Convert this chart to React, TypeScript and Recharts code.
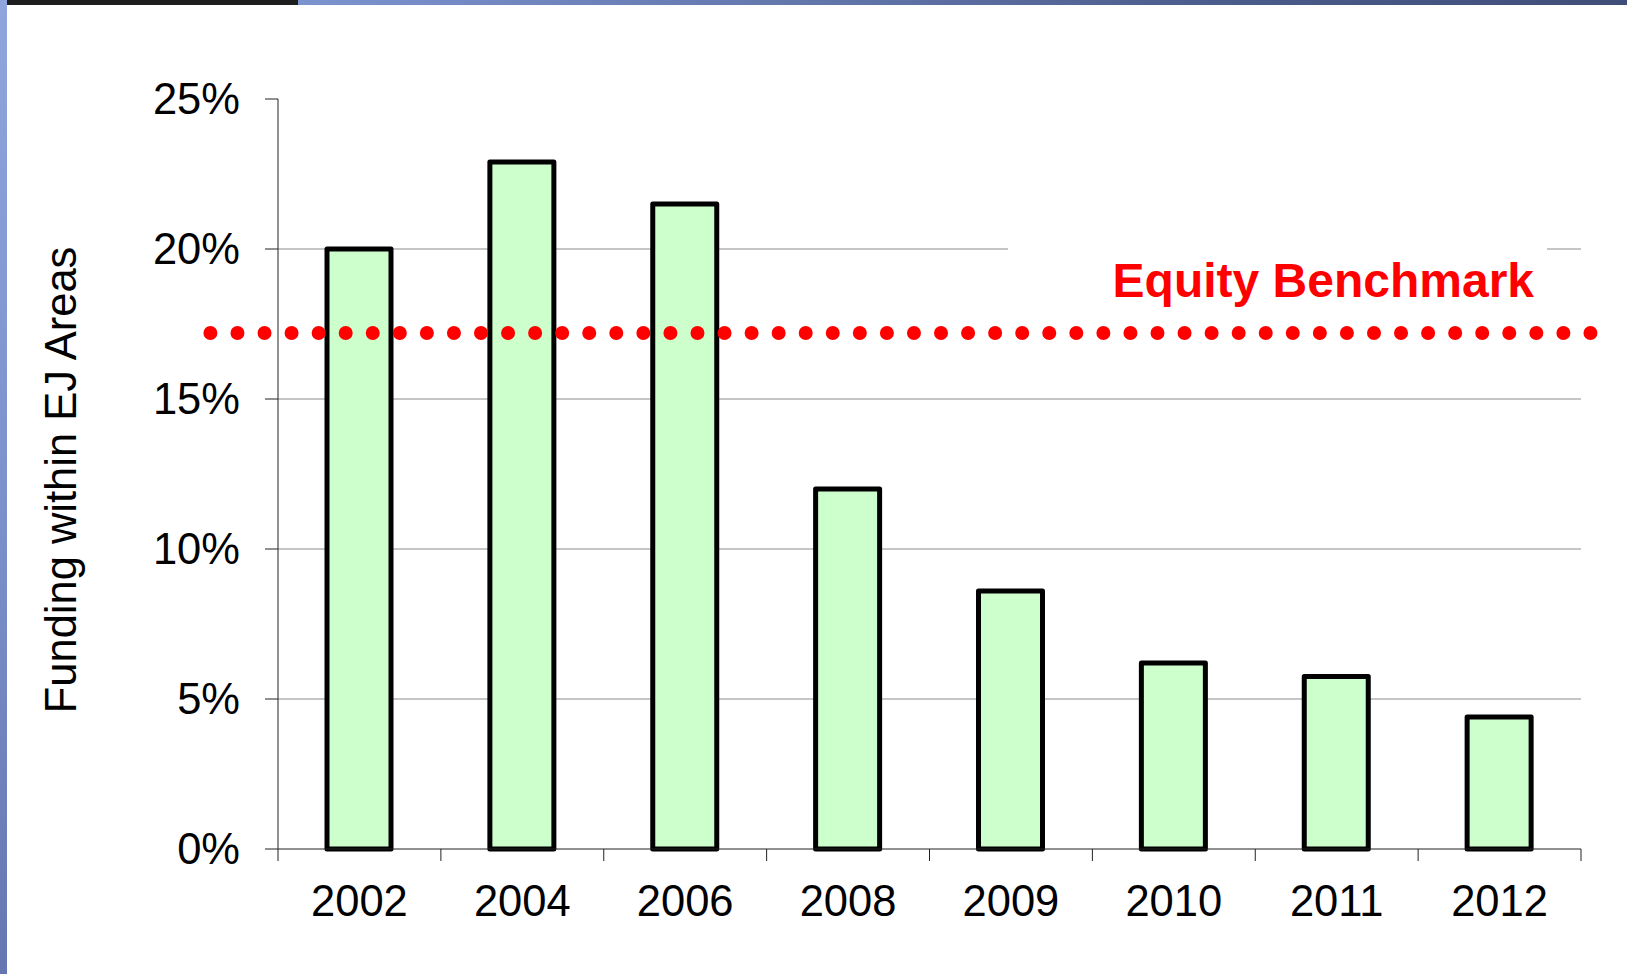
import { BarChart, Bar, XAxis, YAxis, CartesianGrid, ReferenceLine } from 'recharts';

const years = ['2002', '2004', '2006', '2008', '2009', '2010', '2011', '2012'];
const fundingShare = [20.0, 22.9, 21.5, 12.0, 8.6, 6.2, 5.75, 4.4];
const benchmarkShare = 17.2;
const yTicks = [0, 5, 10, 15, 20, 25];
const gridValues = [5, 10, 15, 20];

const data = years.map((year, i) => ({ year, share: fundingShare[i] }));

const FONT = '"Liberation Sans", Arial, Helvetica, sans-serif';
const AXIS = '#222';
const LABEL_SIZE = 43.5;
const X_TICK_MARGIN = 36;
const X_TICK_LEN = 12;

// dotted benchmark line runs past both plot edges, with the label box above it
function BenchmarkShape(props: any) {
  const { x1, x2, y1 } = props;
  const start = x1 - 67.6;
  const end = x2 + 10;
  return (
    <g>
      <rect x={x2 - 573} y={y1 - 93} width={539} height={66} fill="#fff" />
      <text
        x={x2 - 47}
        y={y1 - 36}
        textAnchor="end"
        fill="#ff0000"
        fontSize={48}
        fontWeight="bold"
        fontFamily={FONT}
      >
        Equity Benchmark
      </text>
      <line
        x1={start}
        y1={y1}
        x2={end}
        y2={y1}
        stroke="#ff0000"
        strokeWidth={14}
        strokeLinecap="round"
        strokeDasharray="0 27.06"
      />
    </g>
  );
}

function YTitle(props: any) {
  const { viewBox } = props;
  const cx = viewBox.x + 76;
  const cy = viewBox.y + viewBox.height / 2 + 6;
  return (
    <text
      x={cx}
      y={cy}
      transform={`rotate(-90, ${cx}, ${cy})`}
      textAnchor="middle"
      fontSize={LABEL_SIZE}
      fontFamily={FONT}
      fill="#000"
    >
      Funding within EJ Areas
    </text>
  );
}

// year label plus tick marks on the category boundaries (Excel style)
function YearTick(props: any) {
  const { x, y, payload, index, visibleTicksCount } = props;
  const half = payload.offset || 0;
  const top = y - X_TICK_MARGIN;
  const bottom = top + X_TICK_LEN;
  const isLast = index === visibleTicksCount - 1;
  return (
    <g>
      <line x1={x - half} x2={x - half} y1={top} y2={bottom} stroke={AXIS} />
      {isLast && <line x1={x + half} x2={x + half} y1={top} y2={bottom} stroke={AXIS} />}
      <text
        x={x}
        y={y}
        dy="0.71em"
        textAnchor="middle"
        fontSize={LABEL_SIZE}
        fontFamily={FONT}
        fill="#000"
      >
        {payload.value}
      </text>
    </g>
  );
}

export default function App() {
  return (
    <div
      style={{
        position: 'fixed',
        left: 0,
        top: 0,
        width: 1627,
        height: 974,
        background: '#fff',
        overflow: 'hidden',
        fontFamily: FONT,
      }}
    >
      <BarChart
        width={1627}
        height={974}
        data={data}
        margin={{ top: 99, right: 46, bottom: 65, left: 0 }}
      >
        <CartesianGrid
          vertical={false}
          horizontalValues={gridValues}
          stroke="#8c8c8c"
          strokeWidth={1}
        />
        <XAxis
          dataKey="year"
          height={60}
          interval={0}
          tickLine={false}
          tickSize={0}
          tickMargin={X_TICK_MARGIN}
          axisLine={{ stroke: AXIS }}
          tick={<YearTick />}
        />
        <YAxis
          width={278}
          domain={[0, 25]}
          ticks={yTicks}
          interval={0}
          tickFormatter={(v: number) => `${v}%`}
          tickSize={13}
          tickMargin={25}
          tickLine={{ stroke: AXIS }}
          axisLine={{ stroke: AXIS }}
          tick={{ fill: '#000', fontSize: LABEL_SIZE, fontFamily: FONT }}
          label={<YTitle />}
        />
        <Bar
          dataKey="share"
          barSize={64}
          fill="#ccffcc"
          stroke="#000"
          strokeWidth={5}
          strokeLinejoin="round"
          isAnimationActive={false}
        />
        <ReferenceLine y={benchmarkShare} ifOverflow="visible" shape={BenchmarkShape} />
      </BarChart>
      {/* slide frame edges */}
      <div
        style={{
          position: 'absolute',
          left: 0,
          top: 0,
          width: 7,
          height: 974,
          background: 'linear-gradient(#90a5dc, #7d92cc 50%, #6576b0)',
        }}
      />
      <div
        style={{
          position: 'absolute',
          left: 7,
          top: 0,
          width: 291,
          height: 5,
          background: '#1e1e1e',
        }}
      />
      <div
        style={{
          position: 'absolute',
          left: 298,
          top: 0,
          width: 1329,
          height: 5,
          background: 'linear-gradient(90deg, #7b93cf, #6275aa 40%, #4b5b8a 70%, #3f4e78)',
        }}
      />
    </div>
  );
}
